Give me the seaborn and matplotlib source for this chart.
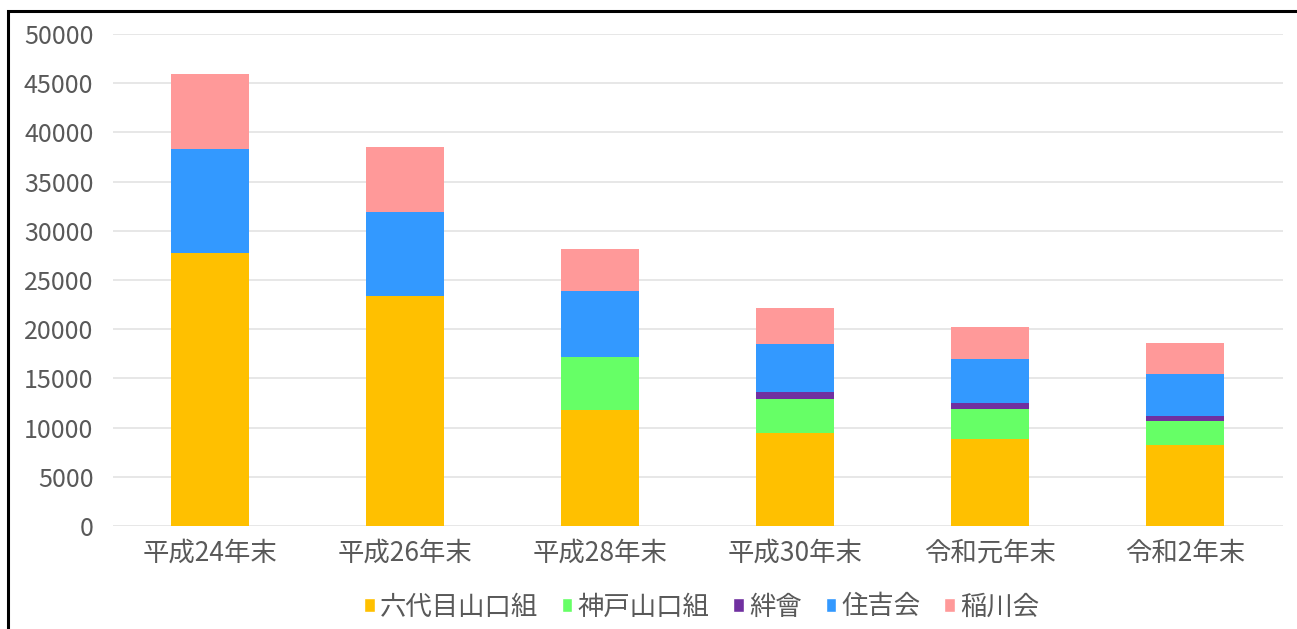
import pandas as pd
import seaborn as sns
import matplotlib.pyplot as plt
from matplotlib.patches import Patch, Rectangle

# year-end membership counts
years = ['平成24年末', '平成26年末', '平成28年末', '平成30年末', '令和元年末', '令和2年末']
groups = ['六代目山口組', '神戸山口組', '絆會', '住吉会', '稲川会']
yamaguchi = [27700, 23400, 11800, 9400, 8800, 8200]
kobe = [0, 0, 5400, 3500, 3050, 2500]
kizuna = [0, 0, 0, 750, 600, 500]
sumiyoshi = [10600, 8500, 6700, 4800, 4470, 4200]
inagawa = [7600, 6600, 4200, 3700, 3300, 3200]
colors = ['#FFC000', '#66FF66', '#7030A0', '#3399FF', '#FF9999']


def main():
    sns.set_theme(style='white')
    plt.rcParams['font.family'] = ['Noto Sans CJK JP', 'DejaVu Sans']

    df = pd.DataFrame({'year': years, '六代目山口組': yamaguchi,
                       '神戸山口組': kobe, '絆會': kizuna,
                       '住吉会': sumiyoshi, '稲川会': inagawa})
    # cumulative totals so the bars can be drawn over each other
    cum = df[groups].cumsum(axis=1)
    cum['year'] = df['year']

    fig = plt.figure(figsize=(12.97, 6.29), dpi=100)
    ax = fig.add_axes([0.087, 0.1638, 0.902, 0.7822])

    for g, c in reversed(list(zip(groups, colors))):
        sns.barplot(x='year', y=g, data=cum, color=c, width=0.4,
                    saturation=1, linewidth=0, ax=ax, zorder=3)

    ax.set_ylim(0, 50000)
    ax.set_yticks(range(0, 50001, 5000))
    ax.yaxis.grid(True, color='#E3E3E3', linewidth=1.2, zorder=0)
    ax.set_axisbelow(True)
    for s in ax.spines.values():
        s.set_visible(False)
    ax.set_xlabel('')
    ax.set_ylabel('')
    ax.tick_params(axis='y', labelsize=18, labelcolor='#595959', pad=14,
                   length=0)
    ax.tick_params(axis='x', labelsize=19, labelcolor='#595959', pad=10,
                   length=0)

    handles = [Patch(facecolor=c, label=g) for g, c in zip(groups, colors)]
    fig.legend(handles=handles, loc='center', bbox_to_anchor=(0.541, 0.035),
               ncol=5, frameon=False, fontsize=19, handlelength=0.4,
               handleheight=0.4, handletextpad=0.2, columnspacing=0.9,
               labelcolor='#595959')

    # black frame of the original screenshot (only top and left show)
    fig.patches.append(Rectangle((8 / 1297, -0.1), 1.2, 1.1 - 11 / 629,
                                 transform=fig.transFigure, fill=False,
                                 edgecolor='black', linewidth=2.2))

    plt.savefig('out.png', dpi=100)
    plt.close()


if __name__ == '__main__':
    main()
